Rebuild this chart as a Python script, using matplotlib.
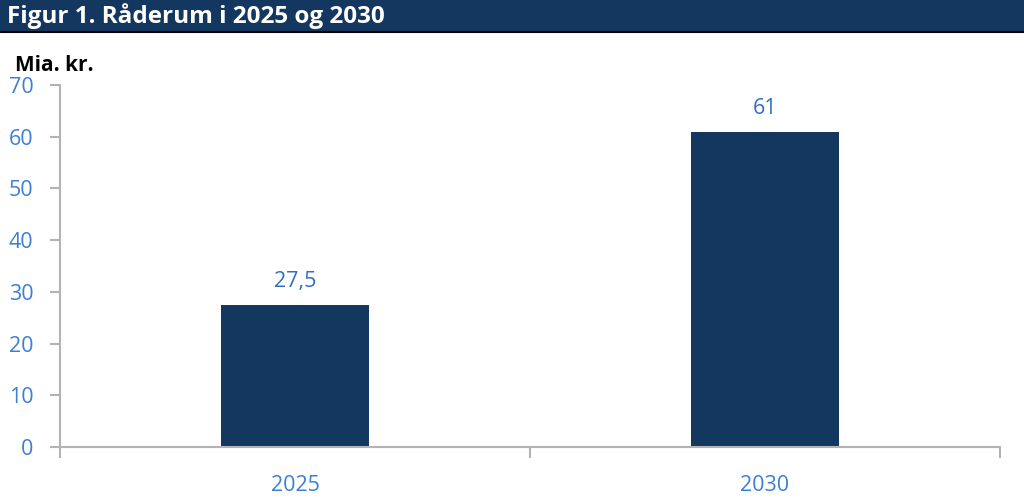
import matplotlib
matplotlib.use("Agg")
import matplotlib.pyplot as plt
from matplotlib.patches import Rectangle

categories = ["2025", "2030"]
values = [27.5, 61]
value_labels = ["27,5", "61"]
yticks = [0, 10, 20, 30, 40, 50, 60, 70]
title = "Figur 1. Råderum i 2025 og 2030"
ylabel = "Mia. kr."

plt.rcParams['font.family'] = ['Open Sans', 'DejaVu Sans']

navy = "#14375f"
tick_blue = "#3c7fd6"
label_blue = "#2f6fc2"
spine_gray = "#b3b3b3"

fig = plt.figure(figsize=(10.24, 4.98), dpi=100)
# title banner
fig.patches.append(Rectangle((0, 1 - 31/498), 1, 31/498, transform=fig.transFigure,
                             facecolor=navy, edgecolor="none", zorder=0))
fig.add_artist(plt.Line2D([0, 1], [1 - 32/498, 1 - 32/498], transform=fig.transFigure,
                          color="black", lw=1.5))
fig.text(7/1024, 1 - 16/498, title, color="white", fontsize=17.5, fontweight="bold",
         va="center", ha="left")
fig.text(15/1024, 1 - 65/498, ylabel, color="black", fontsize=15, fontweight="bold",
         va="center", ha="left")

ax = fig.add_axes([60/1024, 1 - 447/498, 940/1024, (447 - 85)/498])
x = list(range(len(categories)))
bars = ax.bar(x, values, width=0.315, color=navy, zorder=2)
for xi, v, lab in zip(x, values, value_labels):
    ax.annotate(lab, (xi, v), xytext=(0, 9), textcoords="offset points",
                ha="center", va="bottom", color=label_blue, fontsize=15.5)

ax.set_xlim(-0.5, len(categories) - 0.5)
ax.set_ylim(0, 70)
ax.set_yticks(yticks)
ax.set_yticklabels([str(t) for t in yticks])
ax.set_xticks(x)
ax.set_xticklabels(categories)
ax.set_xticks([i - 0.5 for i in range(len(categories) + 1)], minor=True)

for s in ["top", "right"]:
    ax.spines[s].set_visible(False)
for s in ["left", "bottom"]:
    ax.spines[s].set_color(spine_gray)
    ax.spines[s].set_linewidth(1.5)

ax.tick_params(axis="y", colors=spine_gray, labelcolor=tick_blue, labelsize=15.5,
               length=7, width=1.5, pad=12)
ax.tick_params(axis="x", which="major", length=0, labelcolor=tick_blue, labelsize=15.5, pad=20)
ax.tick_params(axis="x", which="minor", length=8, width=1.5, color=spine_gray)

fig.savefig("out.png", dpi=100)
